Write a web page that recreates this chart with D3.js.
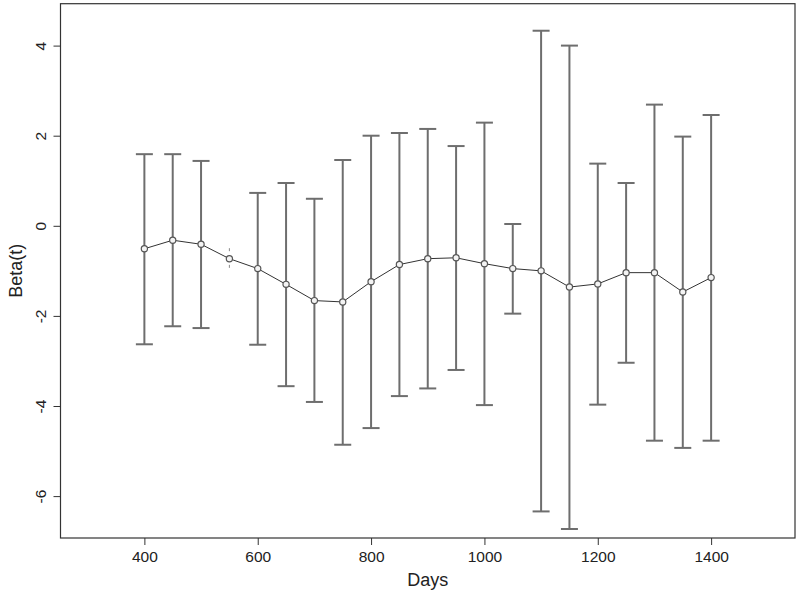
<!DOCTYPE html>
<html><head><meta charset="utf-8">
<script src="https://cdn.jsdelivr.net/npm/d3@7"></script>
<style>body{margin:0;background:#fff}svg{display:block}text{font-family:"Liberation Sans",Arial,sans-serif;fill:#222}</style>
</head><body><svg id="c" width="800" height="594"></svg>
<script>
const days  = [400,450,500,550,600,650,700,750,800,850,900,950,1000,1050,1100,1150,1200,1250,1300,1350,1400];
const beta  = [-0.51,-0.32,-0.41,-0.73,-0.95,-1.30,-1.66,-1.69,-1.24,-0.86,-0.73,-0.71,-0.84,-0.95,-1.00,-1.36,-1.29,-1.04,-1.04,-1.47,-1.15];
const upper = [1.59,1.59,1.44,-0.53,0.73,0.95,0.60,1.46,2.00,2.06,2.15,1.77,2.29,0.04,4.33,4.00,1.38,0.95,2.69,1.98,2.46];
const lower = [-2.63,-2.23,-2.27,-0.90,-2.64,-3.56,-3.91,-4.86,-4.49,-3.78,-3.61,-3.20,-3.98,-1.95,-6.34,-6.73,-3.97,-3.04,-4.77,-4.93,-4.77];
const xTicks = [400,600,800,1000,1200,1400];
const yTicks = [-6,-4,-2,0,2,4];

const L=60.5, R=795, T=3.7, B=538;
const svg=d3.select("#c");
const x=d3.scaleLinear().domain([252,1548]).range([L,R]);
const y=d3.scaleLinear().domain([-6.93,4.93]).range([B,T]);
const data=days.map((d,i)=>({d,b:beta[i],u:upper[i],l:lower[i]}));

// box
svg.append("rect").attr("x",L).attr("y",T).attr("width",R-L).attr("height",B-T)
  .attr("fill","none").attr("stroke","#333").attr("stroke-width",1.2);

// x axis
const xa=svg.append("g").attr("transform",`translate(0,${B})`)
  .call(d3.axisBottom(x).tickValues(xTicks).tickSize(7).tickPadding(6).tickFormat(d3.format("d")));
xa.select(".domain").remove();
xa.selectAll("line").attr("stroke","#333");
xa.selectAll("text").attr("font-size",15.5).attr("fill","#222");

// y axis
const ya=svg.append("g").attr("transform",`translate(${L},0)`)
  .call(d3.axisLeft(y).tickValues(yTicks).tickSize(7).tickFormat(d=>String(d)));
ya.select(".domain").remove();
ya.selectAll("line").attr("stroke","#333");
ya.selectAll("text").attr("font-size",15.5).attr("fill","#222")
  .attr("text-anchor","middle").attr("dy",0).attr("x",0)
  .attr("transform","translate(-14.5,0) rotate(-90)");

// titles
svg.append("text").attr("x",(L+R)/2).attr("y",586).attr("text-anchor","middle").attr("font-size",18).text("Days");
svg.append("text").attr("transform",`translate(22,${(T+B)/2}) rotate(-90)`).attr("text-anchor","middle").attr("font-size",18).text("Beta(t)");

// error bars
const eb=svg.append("g").attr("stroke","#6e6e6e").attr("stroke-width",2);
const cap=8.5;
data.forEach(p=>{
  const tiny=Math.abs(y(p.l)-y(p.u))<25;
  if(tiny){
    const g=svg.append("g").attr("stroke","#888").attr("stroke-width",1);
    g.append("line").attr("x1",x(p.d)).attr("x2",x(p.d)).attr("y1",y(p.u)-1.5).attr("y2",y(p.u)+1.5);
    g.append("line").attr("x1",x(p.d)).attr("x2",x(p.d)).attr("y1",y(p.l)-1.5).attr("y2",y(p.l)+1.5);
    return;
  }
  eb.append("line").attr("x1",x(p.d)).attr("x2",x(p.d)).attr("y1",y(p.u)).attr("y2",y(p.l));
  eb.append("line").attr("x1",x(p.d)-cap).attr("x2",x(p.d)+cap).attr("y1",y(p.u)).attr("y2",y(p.u));
  eb.append("line").attr("x1",x(p.d)-cap).attr("x2",x(p.d)+cap).attr("y1",y(p.l)).attr("y2",y(p.l));
});

// line + points
svg.append("path").datum(data).attr("fill","none").attr("stroke","#333").attr("stroke-width",1)
  .attr("d",d3.line().x(p=>x(p.d)).y(p=>y(p.b)));
svg.append("g").selectAll("circle").data(data).join("circle")
  .attr("cx",p=>x(p.d)).attr("cy",p=>y(p.b)).attr("r",3.1)
  .attr("fill","#f4f4f4").attr("stroke","#555").attr("stroke-width",1.2);
</script></body></html>
